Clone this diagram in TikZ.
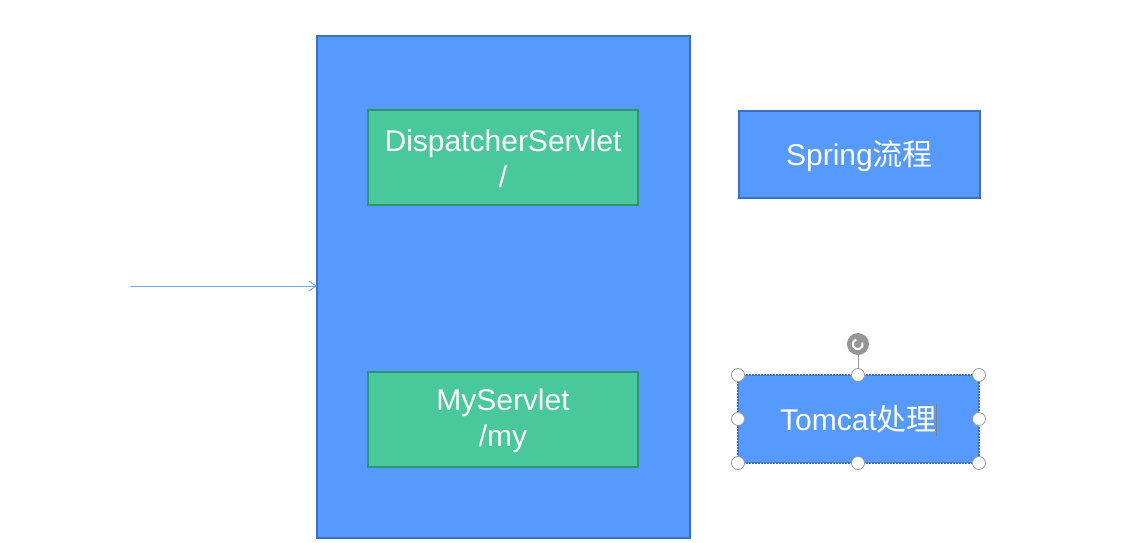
\documentclass[tikz,border=0pt]{standalone}
\usepackage{fontspec}
\setmainfont{Liberation Sans}
\newfontfamily\cjk{Noto Sans CJK SC}
\usetikzlibrary{arrows.meta}
\definecolor{bluefill}{RGB}{86,153,255}
\definecolor{blueedge}{RGB}{62,110,190}
\definecolor{greenfill}{RGB}{72,200,155}
\definecolor{greenedge}{RGB}{46,150,110}
\definecolor{arrowblue}{RGB}{120,165,240}
\definecolor{handlegray}{RGB}{150,150,150}
\tikzset{
  x=1pt, y=-1pt,
  bigbox/.style={draw=blueedge, fill=bluefill, line width=1.5pt},
  greenbox/.style={draw=greenedge, fill=greenfill, line width=1.5pt},
  bluebox/.style={draw=blueedge, fill=bluefill, line width=1.3pt},
  label/.style={text=white, font=\fontsize{30}{36}\selectfont, align=center},
  handle/.style={circle, draw=gray!80, fill=white, line width=0.8pt, inner sep=0pt, minimum size=13pt},
}
\begin{document}
\begin{tikzpicture}
\useasboundingbox (0,0) rectangle (1136,542);
\fill[white] (0,0) rectangle (1136,542);
% container
\draw[bigbox] (317,36) rectangle (690,538);
\node (container) at (503.5,287) [minimum width=373pt, minimum height=502pt, inner sep=0pt] {};
% inner boxes
\draw[greenbox] (368,110) rectangle (638,205);
\node[label] (ds) at (503,159) {DispatcherServlet\\/};
\draw[greenbox] (368,372) rectangle (638,467);
\node[label] (my) at (503,421) {MyServlet\\/my};
% right boxes
\draw[bluebox] (739,111) rectangle (980,198);
\node[label] (spring) at (859.5,156) {Spring{\cjk 流程}};
\draw[bluebox, dash pattern=on 2pt off 1pt] (738,375) rectangle (979,463);
\node[label] (tomcat) at (858.5,419) {Tomcat{\cjk 处理}};
% text cursor
\draw[gray, line width=0.8pt] (936,404) -- (936,436);
% incoming arrow
\coordinate (src) at (131,286);
\draw[arrowblue, line width=1pt, -{Straight Barb[length=7pt, width=10pt]}] (src) -- (container.west |- src);
% selection handles
\draw[handlegray, line width=1pt] (858,352) -- (858,375);
\node[circle, fill=handlegray, minimum size=22pt, inner sep=0pt] (rot) at (858,344) {};
\draw[white, line width=2pt] (rot) ++(4.5,-1.5) arc[start angle=-20, end angle=250, radius=5];
\foreach \px/\py in {738/375, 858/375, 979/375, 738/419, 979/419, 738/463, 858/463, 979/463}
  \node[handle] at (\px,\py) {};
\end{tikzpicture}
\end{document}
